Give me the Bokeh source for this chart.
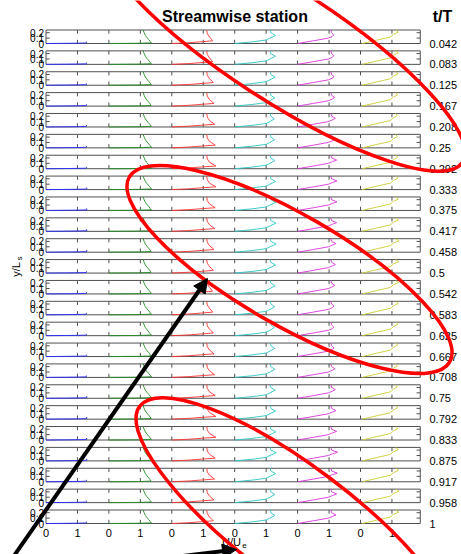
import math
from bokeh.plotting import figure
from bokeh.models import Range1d, Arrow, NormalHead
from bokeh.core.properties import value
from bokeh.embed import file_html
from bokeh.resources import INLINE

# ---------------- data ----------------
t_labels = ["0.042", "0.083", "0.125", "0.167", "0.208", "0.25", "0.292", "0.333",
            "0.375", "0.417", "0.458", "0.5", "0.542", "0.583", "0.625", "0.667",
            "0.708", "0.75", "0.792", "0.833", "0.875", "0.917", "0.958", "1"]
station_offsets = [0, 2, 4, 6, 8, 10]
station_colors = ["#2a2aff", "#228c22", "#ff3333", "#2cc6c6", "#d934d9", "#cccc33"]
x_tick_values = [0, 1, 2, 3, 4, 5, 6, 7, 8, 9, 10, 11]
x_tick_labels = ["0", "1", "0", "1", "0", "1", "0", "1", "0", "1", "0", "1"]
y_tick_values = [0, 0.1, 0.2]
y_tick_labels = ["0", "0.1", "0.2"]

# velocity profiles (y/L_s, U/U_e) per station
blue_y = [0, 0.003, 0.006, 0.010, 0.020, 0.035]
blue_u = [0, 0.60, 1.00, 1.28, 1.30, 1.27]
green_y = [0, 0.004, 0.012, 0.040, 0.070, 0.110, 0.150, 0.200, 0.250]
green_u = [0, 0.95, 1.35, 1.31, 1.27, 1.21, 1.16, 1.12, 1.09]
red_y = [0, 0.015, 0.035, 0.050, 0.120, 0.180, 0.250]
red_u = [0, 0.55, 1.00, 1.30, 1.20, 1.13, 1.11]
cyan_y = [0, 0.030, 0.065, 0.100, 0.150, 0.200, 0.250]
cyan_u = [0, 0.55, 1.00, 1.12, 1.30, 1.15, 1.13]
magenta_y = [0, 0.050, 0.100, 0.130, 0.160, 0.200, 0.250]
magenta_u = [0, 0.50, 0.98, 1.10, 1.18, 1.08, 1.06]
yellow_y = [0, 0.060, 0.120, 0.170, 0.210, 0.250]
yellow_u = [0.05, 0.50, 0.95, 1.05, 1.20, 1.12]

# overshoot peak of U/U_e at each t/T
blue_peak = [1.30, 1.30, 1.30, 1.30, 1.30, 1.30, 1.30, 1.31, 1.31, 1.31, 1.31, 1.30,
             1.30, 1.30, 1.30, 1.30, 1.30, 1.31, 1.31, 1.31, 1.31, 1.30, 1.30, 1.30]
green_peak = [1.35, 1.35, 1.35, 1.34, 1.35, 1.36, 1.36, 1.36, 1.35, 1.35, 1.34, 1.34,
              1.35, 1.35, 1.35, 1.35, 1.36, 1.36, 1.35, 1.35, 1.34, 1.34, 1.35, 1.35]
red_peak = [1.30, 1.30, 1.32, 1.34, 1.36, 1.38, 1.40, 1.40, 1.38, 1.36, 1.34, 1.32,
            1.30, 1.30, 1.32, 1.34, 1.36, 1.38, 1.40, 1.40, 1.38, 1.36, 1.34, 1.32]
cyan_peak = [1.30, 1.30, 1.28, 1.27, 1.26, 1.27, 1.28, 1.30, 1.30, 1.31, 1.32, 1.30,
             1.28, 1.27, 1.26, 1.27, 1.28, 1.29, 1.30, 1.31, 1.32, 1.30, 1.28, 1.28]
magenta_peak = [1.15, 1.15, 1.16, 1.18, 1.20, 1.22, 1.24, 1.25, 1.25, 1.24, 1.22, 1.20,
                1.18, 1.16, 1.15, 1.16, 1.18, 1.20, 1.22, 1.24, 1.27, 1.26, 1.24, 1.22]
yellow_peak = [1.20, 1.20, 1.19, 1.18, 1.17, 1.17, 1.18, 1.19, 1.20, 1.21, 1.22, 1.22,
               1.21, 1.20, 1.19, 1.18, 1.17, 1.17, 1.18, 1.19, 1.20, 1.21, 1.22, 1.21]

profiles = [
    (blue_y, blue_u, blue_peak, 4),
    (green_y, green_u, green_peak, 2),
    (red_y, red_u, red_peak, 3),
    (cyan_y, cyan_u, cyan_peak, 4),
    (magenta_y, magenta_u, magenta_peak, 4),
    (yellow_y, yellow_u, yellow_peak, 4),
]

# ---------------- layout ----------------
W, H = 461, 554
PXX = 31.45          # px per unit of U/U_e
PXY = 54.0           # px per unit of y/L_s
X0 = 45.5            # px of first station's U=0
ROW0 = 43.0          # px of first panel's y=0
PERIOD = 20.87       # px between stacked panels
XMAX = 11.9
YMAX = 0.25
OFF = PERIOD / PXY
TLY = 3.7 / PXY
TLX = 3.7 / PXX

xs0 = -X0 / PXX
xe0 = xs0 + W / PXX
ye0 = ROW0 / PXY
ys0 = ye0 - H / PXY


def fx(px):
    return xs0 + px / PXX


def fy(py):
    return ye0 - py / PXY


p = figure(width=W, height=H, x_range=Range1d(xs0, xe0), y_range=Range1d(ys0, ye0),
           output_backend="svg", toolbar_location=None, min_border=0,
           x_axis_type=None, y_axis_type=None, title=None)
p.outline_line_color = None
p.background_fill_color = "white"
p.border_fill_color = "white"

n = len(t_labels)
FONT = value("Liberation Sans")

# panel boxes
p.quad(left=[0] * n, right=[XMAX] * n,
       bottom=[-i * OFF for i in range(n)], top=[-i * OFF + YMAX for i in range(n)],
       fill_color=None, line_color="#505050", line_width=1)

# inward ticks
sx0, sy0, sx1, sy1 = [], [], [], []
for i in range(n):
    b = -i * OFF
    t = b + YMAX
    for xv in x_tick_values[1:]:
        sx0 += [xv, xv]
        sx1 += [xv, xv]
        sy0 += [b, t]
        sy1 += [b + TLY, t - TLY]
    for yv in y_tick_values[1:]:
        sx0 += [0, XMAX]
        sx1 += [TLX, XMAX - TLX]
        sy0 += [b + yv, b + yv]
        sy1 += [b + yv, b + yv]
p.segment(x0=sx0, y0=sy0, x1=sx1, y1=sy1, line_color="#505050", line_width=1)

# profiles
mx, my, mc = [], [], []
for i in range(n):
    for k, (yy, uu, pk, ip) in enumerate(profiles):
        u = list(uu)
        u[ip] = pk[i]
        mx.append([station_offsets[k] + v for v in u])
        my.append([v - i * OFF for v in yy])
        mc.append(station_colors[k])
p.multi_line(xs=mx, ys=my, line_color=mc, line_width=0.9)

# y tick labels
tx, ty, tt = [], [], []
for i in range(n):
    for yv, lab in zip(y_tick_values, y_tick_labels):
        tx.append(fx(43.5))
        ty.append(yv - i * OFF)
        tt.append(lab)
p.text(x=tx, y=ty, text=tt, text_font=FONT, text_font_size="10px",
       text_align="right", text_baseline="middle", text_color="black")

# t/T labels
p.text(x=[fx(429)] * n, y=[-i * OFF for i in range(n)], text=t_labels, text_font=FONT,
       text_font_size="11px", text_align="left", text_baseline="middle", text_color="black")

# x tick labels
p.text(x=x_tick_values, y=[fy(532)] * len(x_tick_values), text=x_tick_labels, text_font=FONT,
       text_font_size="11px", text_align="center", text_baseline="middle", text_color="black")

# titles / labels
p.text(x=[fx(234.5)], y=[fy(16)], text=["Streamwise station"], text_font=FONT,
       text_font_size="16px", text_font_style="bold", text_align="center",
       text_baseline="middle", text_color="black")
p.text(x=[fx(442)], y=[fy(16)], text=["t/T"], text_font=FONT,
       text_font_size="16px", text_font_style="bold", text_align="center",
       text_baseline="middle", text_color="black")
p.text(x=[fx(15)], y=[fy(269)], text=["y/L"], text_font=FONT, text_font_size="11px",
       angle=math.pi / 2, text_align="center", text_baseline="middle", text_color="black")
p.text(x=[fx(19)], y=[fy(258)], text=["s"], text_font=FONT, text_font_size="8px",
       angle=math.pi / 2, text_align="center", text_baseline="middle", text_color="black")
p.text(x=[fx(231)], y=[fy(541)], text=["U/U"], text_font=FONT, text_font_size="11px",
       text_align="center", text_baseline="middle", text_color="black")
p.text(x=[fx(244)], y=[fy(545)], text=["e"], text_font=FONT, text_font_size="8px",
       text_align="center", text_baseline="middle", text_color="black")

# red annotation loops (px centre, full axes, tilt in degrees)
loops = [(281, 44, 432, 112, 33), (289, 269, 370, 110, 30), (295, 523, 390, 114, 37)]
p.ellipse(x=[fx(c[0]) for c in loops], y=[fy(c[1]) for c in loops],
          width=[c[2] for c in loops], height=[c[3] for c in loops],
          width_units="screen", height_units="screen",
          angle=[-math.radians(c[4]) for c in loops],
          fill_color=None, line_color="#ff0000", line_width=3.5)

# black arrows
p.add_layout(Arrow(end=NormalHead(size=14, fill_color="black", line_color="black"),
                   x_start=fx(13), y_start=fy(556), x_end=fx(207), y_end=fy(278),
                   line_width=4, line_color="black"))
p.add_layout(Arrow(end=NormalHead(size=14, fill_color="black", line_color="black"),
                   x_start=fx(170), y_start=fy(557), x_end=fx(236), y_end=fy(549),
                   line_width=4, line_color="black"))

open("out.html", "w").write(file_html(p, INLINE))
